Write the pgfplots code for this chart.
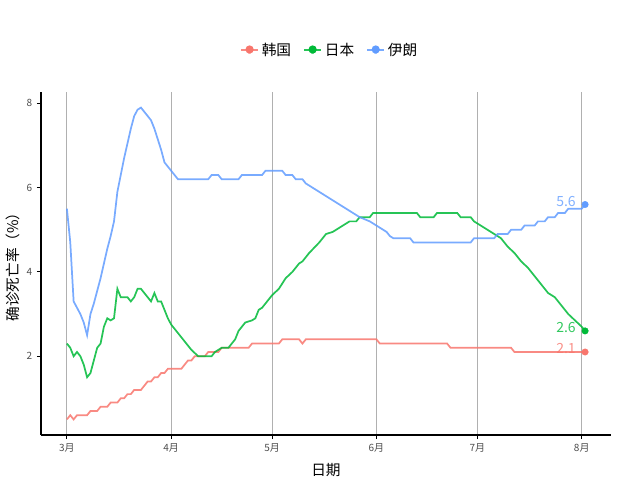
\documentclass[border=0pt]{standalone}
\usepackage{pgfplots}
\pgfplotsset{compat=1.18}
\usepackage{fontspec}
\setmainfont{Noto Sans CJK SC}
\definecolor{kr}{HTML}{F8766D}
\definecolor{jp}{HTML}{00BA38}
\definecolor{ir}{HTML}{619CFF}
\definecolor{tickgray}{HTML}{4D4D4D}
\definecolor{gridgray}{HTML}{B0B0B0}

% day 0 = 3月1日
\pgfplotstableread{
day val
0 0.5
1 0.6
2 0.5
3 0.6
6 0.6
7 0.7
9 0.7
10 0.8
12 0.8
13 0.9
15 0.9
16 1.0
17 1.0
18 1.1
19 1.1
20 1.2
22 1.2
23 1.3
24 1.4
25 1.4
26 1.5
27 1.5
28 1.6
29 1.6
30 1.7
34 1.7
35 1.8
36 1.9
37 1.9
38 2.0
41 2.0
42 2.1
45 2.1
46 2.2
54 2.2
55 2.3
63 2.3
64 2.4
69 2.4
70 2.3
71 2.4
92 2.4
93 2.3
113 2.3
114 2.2
132 2.2
133 2.1
154 2.1
}\korea

\pgfplotstableread{
day val
0 2.3
1 2.2
2 2.0
3 2.1
4 2.0
5 1.8
6 1.5
7 1.6
8 1.9
9 2.2
10 2.3
11 2.7
12 2.9
13 2.85
14 2.9
15 3.6
16 3.4
17 3.4
18 3.4
19 3.3
20 3.4
21 3.6
22 3.6
23 3.5
24 3.4
25 3.3
26 3.5
27 3.3
28 3.3
29 3.1
30 2.9
31 2.75
33 2.55
35 2.35
37 2.15
39 2.0
43 2.0
44 2.1
46 2.2
48 2.2
49 2.3
50 2.4
51 2.6
52 2.7
53 2.8
55 2.85
56 2.9
57 3.1
58 3.15
59 3.25
61 3.45
63 3.6
65 3.85
67 4.0
69 4.2
70 4.25
72 4.45
75 4.7
77 4.9
79 4.95
80 5.0
82 5.1
84 5.2
86 5.2
87 5.3
90 5.3
91 5.4
104 5.4
105 5.3
109 5.3
110 5.4
116 5.4
117 5.3
120 5.3
121 5.2
123 5.1
125 5.0
127 4.9
129 4.8
131 4.6
133 4.45
135 4.25
137 4.1
139 3.9
141 3.7
143 3.5
145 3.4
147 3.2
149 3.0
151 2.85
153 2.7
154 2.6
}\japan

\pgfplotstableread{
day val
0 5.5
1 4.7
2 3.3
4 3.0
5 2.8
6 2.5
7 3.0
8 3.25
9 3.55
10 3.85
11 4.2
12 4.55
13 4.85
14 5.2
15 5.9
16 6.3
17 6.7
18 7.05
19 7.4
20 7.7
21 7.85
22 7.9
23 7.8
24 7.7
25 7.6
26 7.4
27 7.15
28 6.9
29 6.6
30 6.5
31 6.4
32 6.3
33 6.2
42 6.2
43 6.3
45 6.3
46 6.2
51 6.2
52 6.3
58 6.3
59 6.4
64 6.4
65 6.3
67 6.3
68 6.2
70 6.2
71 6.1
73 6.0
75 5.9
78 5.75
81 5.6
84 5.45
87 5.3
90 5.2
92 5.1
95 4.95
96 4.85
97 4.8
102 4.8
103 4.7
120 4.7
121 4.8
127 4.8
128 4.9
131 4.9
132 5.0
135 5.0
136 5.1
139 5.1
140 5.2
142 5.2
143 5.3
145 5.3
146 5.4
148 5.4
149 5.5
153 5.5
154 5.6
}\iran

\begin{document}
\begin{tikzpicture}
\useasboundingbox (0,0) rectangle (480pt,360pt);
\begin{axis}[
  at={(30.75pt,33.75pt)}, anchor=south west,
  scale only axis, width=427.5pt, height=257.25pt,
  xmin=-7.7, xmax=161.7, ymin=0.13, ymax=8.27,
  axis x line=bottom, axis y line=left,
  axis line style={-, line width=1.4pt, black},
  xtick={0,31,61,92,122,153},
  xticklabels={3月,4月,5月,6月,7月,8月},
  ytick={2,4,6,8},
  tick align=outside, major tick length=3pt,
  tick style={black, line width=0.8pt},
  xmajorgrids, grid style={gridgray, line width=0.7pt},
  ticklabel style={font=\fontsize{7.5}{9}\selectfont, text=tickgray},
  /pgf/number format/assume math mode=true,
  xlabel={日期}, ylabel={确诊死亡率（\%）},
  every axis x label/.style={at={(axis description cs:0.5,-0.102)}, anchor=center, font=\fontsize{11}{13}\selectfont},
  every axis y label/.style={at={(axis description cs:-0.049,0.5)}, rotate=90, anchor=center, font=\fontsize{11}{13}\selectfont},
  legend style={at={(axis description cs:0.507,1.122)}, anchor=center, draw=none, fill=none,
    font=\fontsize{11}{13}\selectfont, legend columns=3,
    /tikz/every even column/.append style={column sep=7pt}},
  legend image code/.code={
    \draw[line width=1.3pt] (0pt,0pt) -- (13pt,0pt);
    \fill[opacity=1] (6.5pt,0.5pt) circle (2.4pt);
    \node[font=\fontsize{5}{6}\selectfont, inner sep=0pt, opacity=0.6] at (6.5pt,-2.5pt) {a};
  },
]
\addplot[color=kr, line width=1.3pt, opacity=0.85] table[x=day, y=val] {\korea};
\addlegendentry{韩国}
\addplot[color=jp, line width=1.3pt, opacity=0.85] table[x=day, y=val] {\japan};
\addlegendentry{日本}
\addplot[color=ir, line width=1.3pt, opacity=0.85] table[x=day, y=val] {\iran};
\addlegendentry{伊朗}

\addplot[only marks, mark=*, mark size=2.4pt, color=kr, forget plot] coordinates {(154,2.1)};
\addplot[only marks, mark=*, mark size=2.4pt, color=jp, forget plot] coordinates {(154,2.6)};
\addplot[only marks, mark=*, mark size=2.4pt, color=ir, forget plot] coordinates {(154,5.6)};

\node[anchor=east, text=kr, text opacity=0.8, font=\fontsize{10.5}{12}\selectfont, xshift=-3.5pt, yshift=2.6pt] at (axis cs:154,2.1) {2.1};
\node[anchor=east, text=jp, text opacity=0.8, font=\fontsize{10.5}{12}\selectfont, xshift=-3.5pt, yshift=2.6pt] at (axis cs:154,2.6) {2.6};
\node[anchor=east, text=ir, text opacity=0.8, font=\fontsize{10.5}{12}\selectfont, xshift=-3.5pt, yshift=2.6pt] at (axis cs:154,5.6) {5.6};
\end{axis}
\end{tikzpicture}
\end{document}
